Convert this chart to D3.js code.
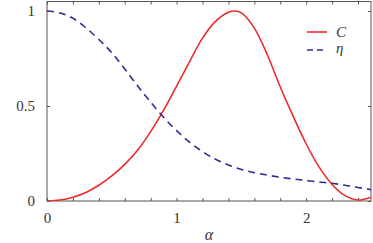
<!DOCTYPE html>
<html>
<head>
<script src="https://d3js.org/d3.v7.min.js"></script>
<style>
  body { margin: 0; background: white; }
</style>
</head>
<body>
<svg id="chart" width="373" height="243"></svg>
<script>
// values
var alphaC = [0, 0.1, 0.2, 0.3, 0.4, 0.5, 0.6, 0.7, 0.8, 0.9, 1.0, 1.1, 1.2, 1.3, 1.4, 1.45, 1.5, 1.6, 1.7, 1.8, 1.9, 2.0, 2.1, 2.2, 2.3, 2.4, 2.5];
var valC   = [0, 0.005, 0.02, 0.045, 0.083, 0.132, 0.193, 0.268, 0.365, 0.478, 0.605, 0.733, 0.857, 0.945, 0.993, 1.0, 0.99, 0.91, 0.77, 0.60, 0.445, 0.30, 0.178, 0.087, 0.028, 0.005, 0.02];

var alphaEta = [0, 0.1, 0.2, 0.3, 0.4, 0.5, 0.6, 0.7, 0.8, 0.9, 1.0, 1.1, 1.2, 1.3, 1.4, 1.5, 1.6, 1.7, 1.8, 1.9, 2.0, 2.1, 2.2, 2.3, 2.4, 2.5];
var valEta   = [1.0, 0.99, 0.962, 0.912, 0.85, 0.78, 0.695, 0.605, 0.52, 0.44, 0.37, 0.31, 0.26, 0.22, 0.19, 0.166, 0.149, 0.136, 0.125, 0.116, 0.108, 0.1, 0.093, 0.083, 0.071, 0.06];

var xTicks = [0, 0.2, 0.4, 0.6, 0.8, 1, 1.2, 1.4, 1.6, 1.8, 2, 2.2, 2.4];
var xLabels = [0, 1, 2];
var yTicks = [0, 0.5, 1];
var seriesNames = ["C", "η"];

var svg = d3.select("#chart");

var x = d3.scaleLinear().domain([0, 2.5]).range([47, 371]);
var y = d3.scaleLinear().domain([0, 1.05]).range([201, 1.5]);

// frame
svg.append("rect")
  .attr("x", x(0)).attr("y", y(1.05))
  .attr("width", x(2.5) - x(0)).attr("height", y(0) - y(1.05))
  .attr("fill", "none").attr("stroke", "#555").attr("stroke-width", 1);

function styleAxis(g) {
  g.select(".domain").remove();
  g.selectAll(".tick line").attr("stroke", "#555");
  g.selectAll(".tick text")
    .attr("fill", "#333")
    .attr("font-family", "Liberation Serif")
    .attr("font-size", 15);
}

svg.append("g").attr("transform", "translate(0," + y(0) + ")")
  .call(d3.axisBottom(x).tickValues(xTicks).tickSizeInner(-3).tickSizeOuter(0).tickPadding(11)
    .tickFormat(function(d) { return xLabels.indexOf(d) >= 0 ? d3.format("~g")(d) : ""; }))
  .call(styleAxis);

svg.append("g").attr("transform", "translate(0," + y(1.05) + ")")
  .call(d3.axisTop(x).tickValues(xTicks).tickSizeInner(-3).tickSizeOuter(0).tickFormat(""))
  .call(styleAxis);

svg.append("g").attr("transform", "translate(" + x(0) + ",0)")
  .call(d3.axisLeft(y).tickValues(yTicks).tickSizeInner(-3).tickSizeOuter(0).tickPadding(12)
    .tickFormat(d3.format("~g")))
  .call(styleAxis);

svg.append("g").attr("transform", "translate(" + x(2.5) + ",0)")
  .call(d3.axisRight(y).tickValues(yTicks).tickSizeInner(-3).tickSizeOuter(0).tickFormat(""))
  .call(styleAxis);

// curves
var line = d3.line()
  .x(function(d) { return x(d[0]); })
  .y(function(d) { return y(d[1]); })
  .curve(d3.curveCatmullRom.alpha(0.5));

svg.append("clipPath").attr("id", "plotclip").append("rect")
  .attr("x", x(0)).attr("y", y(1.05)).attr("width", x(2.5) - x(0)).attr("height", y(0) - y(1.05));

svg.append("path")
  .datum(d3.zip(alphaC, valC))
  .attr("d", line)
  .attr("fill", "none")
  .attr("stroke", "#ee2a2a")
  .attr("stroke-width", 1.6)
  .attr("clip-path", "url(#plotclip)");

svg.append("path")
  .datum(d3.zip(alphaEta, valEta))
  .attr("d", line)
  .attr("fill", "none")
  .attr("stroke", "#2d2d8f")
  .attr("stroke-width", 1.6)
  .attr("stroke-dasharray", "7,5")
  .attr("clip-path", "url(#plotclip)");

// legend
var legend = svg.append("g");
legend.append("line").attr("x1", 307).attr("x2", 327).attr("y1", 32).attr("y2", 32)
  .attr("stroke", "#ee2a2a").attr("stroke-width", 1.6);
legend.append("line").attr("x1", 307).attr("x2", 327).attr("y1", 50).attr("y2", 50)
  .attr("stroke", "#2d2d8f").attr("stroke-width", 1.6).attr("stroke-dasharray", "6,4");
legend.append("text").attr("x", 336).attr("y", 37).attr("font-style", "italic")
  .attr("font-family", "Liberation Serif")
  .attr("font-size", 15).attr("fill", "#333").text(seriesNames[0]);
legend.append("text").attr("x", 336).attr("y", 53).attr("font-style", "italic")
  .attr("font-family", "Liberation Serif")
  .attr("font-size", 15).attr("fill", "#333").text(seriesNames[1]);

// axis title
svg.append("text").attr("x", 209).attr("y", 240).attr("text-anchor", "middle")
  .attr("font-family", "Liberation Serif")
  .attr("font-style", "italic").attr("font-size", 16).attr("fill", "#333").text("α");
</script>
</body>
</html>
